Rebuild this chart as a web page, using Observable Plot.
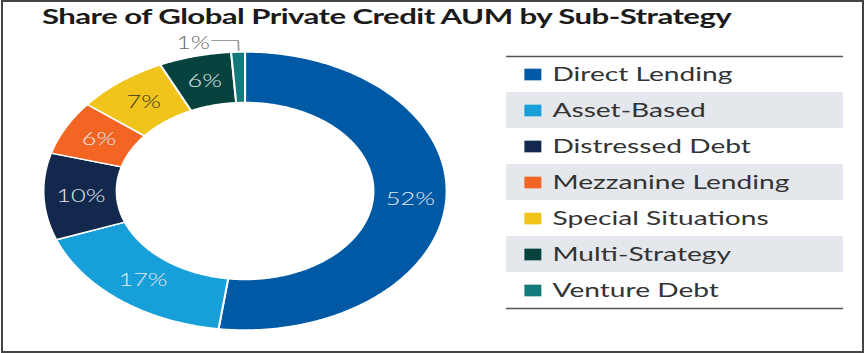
<!DOCTYPE html>
<html>
<head>
<meta charset="utf-8">
<script src="https://cdn.jsdelivr.net/npm/d3@7"></script>
<script src="https://cdn.jsdelivr.net/npm/@observablehq/plot@0.6"></script>
<style>
  html, body { margin: 0; padding: 0; background: #fff; }
  #page { position: relative; width: 865px; height: 353px; overflow: hidden; }
  #frame { position: absolute; left: 1px; top: 0; width: 863px; height: 353px; box-sizing: border-box; border: 2px solid #444; pointer-events: none; }
  #stretch { position: absolute; left: 0; top: 0; width: 597px; height: 353px; transform: scaleX(1.45); transform-origin: 0 0; }
  #title { position: absolute; left: 29px; top: 2px; height: 34px; font-family: Lato, "Open Sans", sans-serif; font-weight: 700; font-size: 21.5px; letter-spacing: -0.4px; line-height: 28px; color: #1b1b1b; white-space: nowrap; }
  #chart { position: absolute; left: 0; top: 36px; width: 597px; height: 317px; }
  #chart svg { position: absolute; left: 0; top: 0; }
</style>
</head>
<body>
<div id="page">
  <div id="stretch">
    <div id="title">Share of Global Private Credit AUM by Sub-Strategy</div>
    <div id="chart"></div>
  </div>
  <div id="frame"></div>
</div>
<script>
// ---- data ----
const categories = ["Direct Lending", "Asset-Based", "Distressed Debt", "Mezzanine Lending", "Special Situations", "Multi-Strategy", "Venture Debt"];
const shares = [52.1, 17.2, 10.1, 6.3, 7.4, 5.8, 1.1];
const shareLabels = ["52%", "17%", "10%", "6%", "7%", "6%", "1%"];
const palette = ["#0059a4", "#179fd9", "#12284c", "#f26522", "#f1c41c", "#06433f", "#127a7a"];

// ---- geometry (unit circle, clockwise from 12 o'clock) ----
const innerRatio = 0.637;
const total = d3.sum(shares);
let acc = 0;
const slices = categories.map((cat, i) => {
  const a0 = acc / total * 2 * Math.PI;
  acc += shares[i];
  const a1 = acc / total * 2 * Math.PI;
  return {cat, i, a0, a1, mid: (a0 + a1) / 2, share: shares[i], label: shareLabels[i]};
});
const ring = [];
for (const s of slices) {
  const n = Math.max(2, Math.ceil((s.a1 - s.a0) / (Math.PI / 360)));
  for (let k = 0; k <= n; k++) {
    const a = s.a0 + (s.a1 - s.a0) * k / n;
    ring.push({cat: s.cat, xo: Math.sin(a), yo: Math.cos(a), xi: innerRatio * Math.sin(a), yi: innerRatio * Math.cos(a)});
  }
}
const labelR = (1 + innerRatio) / 2;
const inside = slices.filter(s => s.share >= 3);
const outside = slices.filter(s => s.share < 3);
const leader = outside.flatMap(s => {
  const x = Math.sin(s.mid), y = Math.cos(s.mid);
  return [
    {cat: s.cat, x: x * 1.015, y: y * 1.015},
    {cat: s.cat, x: x * 1.087, y: y * 1.087},
    {cat: s.cat, x: x * 1.087 - 0.13, y: y * 1.087}
  ];
});
const outsideText = outside.map(s => ({label: s.label, x: Math.sin(s.mid) * 1.087 - 0.14, y: Math.cos(s.mid) * 1.087}));

const color = {type: "ordinal", domain: categories, range: palette};

const donut = Plot.plot({
  width: 597,
  height: 317,
  margin: 0,
  x: {domain: [-1, 1], range: [30, 308], axis: null},
  y: {domain: [-1, 1], range: [294, 16], axis: null},
  color,
  style: {background: "transparent", overflow: "visible"},
  marks: [
    Plot.area(ring, {x1: "xo", y1: "yo", x2: "xi", y2: "yi", z: "cat", fill: "cat", stroke: "white", strokeWidth: 1.4}),
    Plot.text(inside, {
      x: d => Math.sin(d.mid) * labelR,
      y: d => Math.cos(d.mid) * labelR,
      text: "label",
      fill: d => d.cat === "Special Situations" ? "#3b3320" : "#e6e9ee",
      fontSize: 17.5,
      fontWeight: 300,
      fontFamily: "Lato, 'Open Sans', sans-serif"
    }),
    Plot.line(leader, {x: "x", y: "y", z: "cat", stroke: "#9a9a9a", strokeWidth: 1.2, curve: "linear"}),
    Plot.text(outsideText, {x: "x", y: "y", text: "label", textAnchor: "end", dy: 3, fill: "#666", fontSize: 17, fontWeight: 300, fontFamily: "Lato, 'Open Sans', sans-serif"})
  ]
});

const rows = categories.map((cat, i) => ({cat, i}));
const legend = Plot.plot({
  width: 597,
  height: 317,
  margin: 0,
  x: {domain: [0, 1], range: [349, 581.4], axis: null},
  y: {domain: [0, 7], range: [20, 272], axis: null},
  color,
  style: {background: "transparent", overflow: "visible"},
  marks: [
    Plot.rect(rows.filter(r => r.i % 2 === 1), {x1: 0, x2: 1, y1: "i", y2: r => r.i + 1, fill: "#e4e7eb"}),
    Plot.ruleY([0, 7], {x1: 0, x2: 1, stroke: "#555", strokeWidth: 1.6}),
    Plot.dot(rows, {x: 0, y: r => r.i + 0.5, dx: 18, symbol: "square", r: 6.6, fill: "cat", stroke: null}),
    Plot.text(rows, {x: 0, y: r => r.i + 0.5, dx: 31.5, text: "cat", textAnchor: "start", fill: "#333", fontSize: 19.4, fontFamily: "Lato, 'Open Sans', sans-serif"})
  ]
});

const chart = document.getElementById("chart");
chart.appendChild(donut);
chart.appendChild(legend);
</script>
</body>
</html>
